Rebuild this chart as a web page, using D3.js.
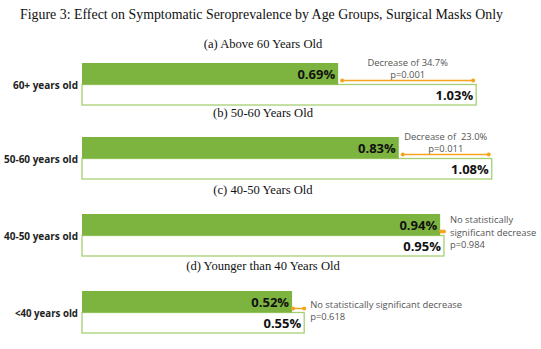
<!DOCTYPE html>
<html>
<head>
<meta charset="utf-8">
<style>
  body { margin: 0; background: #fff; }
  svg { display: block; }
  .title { font-family: "Liberation Serif", "Times New Roman", serif; fill: #111; }
  .cat { font-family: "Open Sans", sans-serif; font-weight: bold; font-size: 10px; fill: #222; }
  .val { font-family: "Open Sans", sans-serif; font-weight: bold; font-size: 13px; fill: #111; }
  .note { font-family: "Open Sans", sans-serif; font-size: 9.4px; fill: #555; white-space: pre; }
</style>
</head>
<body>
<script src="https://d3js.org/d3.v7.min.js"></script>
<script>
// data
var panelTitles = ["(a) Above 60 Years Old", "(b) 50-60 Years Old", "(c) 40-50 Years Old", "(d) Younger than 40 Years Old"];
var categories = ["60+ years old", "50-60 years old", "40-50 years old", "<40 years old"];
var treated = [0.69, 0.83, 0.94, 0.52];
var control = [1.03, 1.08, 0.95, 0.55];
var notes = [
  ["Decrease of 34.7%", "p=0.001"],
  ["Decrease of  23.0%", "p=0.011"],
  ["No statistically", "significant decrease", "p=0.984"],
  ["No statistically significant decrease", "p=0.618"]
];

// layout
var W = 541, H = 349;
var x0 = 82;
var barTop = [63, 137, 214, 291];
var titleY = [48, 117, 194, 270];
// each small chart has its own axis
var scaleOrigin = [58, 90, 82, 82];
var pxPerUnit = [406, 372, 381, 404];
var gH = 22, wH = 21;
var green = "#7db43f", greenLight = "#a6cf72", orange = "#f5a31a";

var svg = d3.select("body").append("svg").attr("width", W).attr("height", H);

svg.append("text").attr("class", "title")
  .attr("x", 261.5).attr("y", 19).attr("text-anchor", "middle")
  .attr("textLength", 483).attr("lengthAdjust", "spacingAndGlyphs")
  .style("font-size", "14px")
  .text("Figure 3: Effect on Symptomatic Seroprevalence by Age Groups, Surgical Masks Only");

categories.forEach(function (cat, i) {
  var x = d3.scaleLinear().domain([0, 1]).range([scaleOrigin[i], scaleOrigin[i] + pxPerUnit[i]]);
  var y = d3.scaleBand().domain(["t", "c"]).range([barTop[i], barTop[i] + gH + wH]).padding(0);
  var g = svg.append("g");

  g.append("text").attr("class", "title")
    .attr("x", 263).attr("y", titleY[i]).attr("text-anchor", "middle")
    .style("font-size", "12.6px")
    .text(panelTitles[i]);

  g.append("text").attr("class", "cat")
    .attr("x", x0 - 4).attr("y", y("c") + 1).attr("dy", "0.35em")
    .attr("text-anchor", "end")
    .style("font-size", i === 3 ? "9.7px" : "10px")
    .text(cat);

  // control bar (white, green outline)
  g.append("rect")
    .attr("x", x0).attr("y", y("c"))
    .attr("width", x(control[i]) - x0).attr("height", y.bandwidth() - 1)
    .attr("fill", "#fff").attr("stroke", greenLight).attr("stroke-width", 1.3);

  // treated bar
  g.append("rect")
    .attr("x", x0).attr("y", y("t"))
    .attr("width", x(treated[i]) - x0).attr("height", y.bandwidth())
    .attr("fill", green);

  g.append("text").attr("class", "val")
    .attr("x", x(treated[i]) - 3).attr("y", y("t") + y.bandwidth() / 2 + 5)
    .attr("text-anchor", "end").text(treated[i].toFixed(2) + "%");
  g.append("text").attr("class", "val")
    .attr("x", x(control[i]) - 3).attr("y", y("c") + y.bandwidth() / 2 + 4.5)
    .attr("text-anchor", "end").text(control[i].toFixed(2) + "%");

  // bracket
  var by = y("c") - 4;
  var bx1 = x(treated[i]) + (i < 2 ? 4 : 1), bx2 = x(control[i]) - (i < 2 ? 3 : 0);
  g.append("line").attr("x1", bx1).attr("x2", bx2).attr("y1", by).attr("y2", by)
    .attr("stroke", orange).attr("stroke-width", 1.5);
  [bx1, bx2].forEach(function (bx) {
    g.append("circle").attr("cx", bx).attr("cy", by).attr("r", 2).attr("fill", orange);
  });

  var lines = notes[i];
  if (i < 2) {
    var cx = (bx1 + bx2) / 2;
    g.selectAll(null).data(lines).enter().append("text").attr("class", "note")
      .attr("x", cx).attr("y", function (d, k) { return by - 15 + k * 12; })
      .attr("text-anchor", "middle").text(function (d) { return d; });
  } else if (i === 2) {
    g.selectAll(null).data(lines).enter().append("text").attr("class", "note")
      .attr("x", x(control[i]) + 6).attr("y", function (d, k) { return barTop[i] + 9 + k * 12.5; })
      .text(function (d) { return d; });
  } else {
    g.selectAll(null).data(lines).enter().append("text").attr("class", "note")
      .attr("x", x(control[i]) + 6).attr("y", function (d, k) { return barTop[i] + 17 + k * 12; })
      .text(function (d) { return d; });
  }
});
</script>
</body>
</html>
